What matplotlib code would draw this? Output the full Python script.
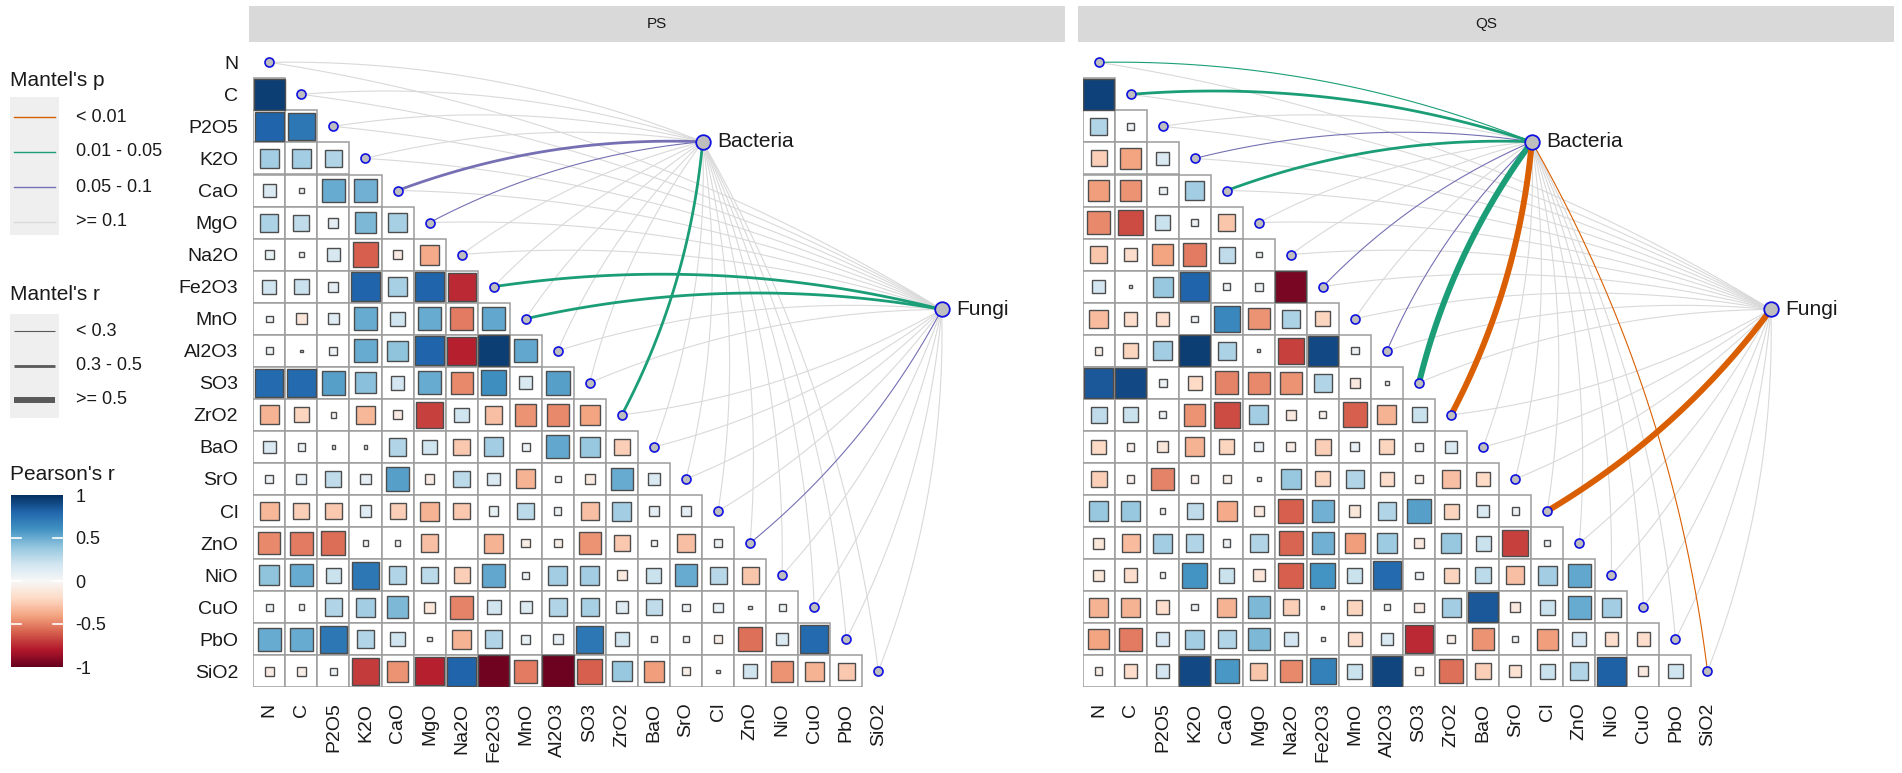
import numpy as np
import matplotlib
matplotlib.use('Agg')
import matplotlib.pyplot as plt
from matplotlib.patches import Rectangle
from matplotlib.colors import Normalize
from matplotlib.cm import ScalarMappable

plt.rcParams['font.family'] = ['Liberation Sans', 'DejaVu Sans']

variables = ['N', 'C', 'P2O5', 'K2O', 'CaO', 'MgO', 'Na2O', 'Fe2O3', 'MnO', 'Al2O3',
             'SO3', 'ZrO2', 'BaO', 'SrO', 'Cl', 'ZnO', 'NiO', 'CuO', 'PbO', 'SiO2']

# Pearson's r, lower triangle: row i holds columns 0..i-1
ps_r = [
    [],
    [0.95],
    [0.80, 0.72],
    [0.35, 0.35, 0.30],
    [0.15, 0.03, 0.50, 0.48],
    [0.32, 0.25, 0.10, 0.45, 0.33],
    [0.08, 0.03, 0.17, -0.60, -0.08, -0.38],
    [0.20, 0.22, 0.10, 0.80, 0.33, 0.80, -0.75],
    [0.04, -0.12, 0.12, 0.50, 0.20, 0.50, -0.52, 0.52],
    [0.05, 0.005, 0.06, 0.50, 0.40, 0.80, -0.78, 0.95, 0.52],
    [0.78, 0.78, 0.55, 0.42, 0.18, 0.50, -0.48, 0.62, 0.16, 0.55],
    [-0.35, -0.22, -0.03, -0.33, -0.08, -0.68, 0.20, -0.30, -0.45, -0.48, -0.40],
    [0.15, 0.05, 0.01, 0.015, 0.30, 0.20, -0.27, 0.35, 0.06, 0.52, 0.38, -0.25],
    [0.06, 0.10, 0.25, 0.10, 0.55, -0.08, 0.27, 0.15, -0.35, 0.03, -0.10, 0.50, 0.15],
    [-0.33, -0.25, -0.27, 0.12, -0.25, -0.35, -0.27, 0.08, 0.27, 0.05, -0.30, 0.35, 0.10, 0.10],
    [-0.48, -0.52, -0.56, 0.03, 0.03, -0.30, 0.0, -0.35, -0.07, -0.06, -0.45, -0.27, 0.03, -0.30, 0.05],
    [0.40, 0.50, 0.22, 0.72, 0.30, 0.27, -0.25, 0.52, 0.05, 0.35, 0.35, -0.10, 0.22, 0.50, 0.28, -0.28],
    [0.05, 0.03, 0.30, 0.35, 0.45, -0.12, -0.50, 0.20, 0.14, 0.30, 0.33, 0.13, 0.25, 0.05, 0.08, 0.01, 0.05],
    [0.50, 0.50, 0.72, 0.30, 0.20, 0.02, -0.35, 0.30, 0.08, 0.10, 0.72, 0.20, 0.04, 0.04, -0.07, -0.55, 0.15, 0.78],
    [-0.08, -0.07, 0.05, -0.70, -0.45, -0.78, 0.80, -0.97, -0.52, -0.98, -0.60, 0.38, -0.42, -0.06, 0.01, 0.20, -0.45, -0.35, -0.27],
]

qs_r = [
    [],
    [0.93],
    [0.30, 0.04],
    [-0.25, -0.40, 0.15],
    [-0.42, -0.45, 0.06, 0.35],
    [-0.48, -0.65, 0.22, 0.05, -0.28],
    [-0.28, -0.18, -0.40, -0.52, 0.25, 0.03],
    [0.18, 0.01, 0.38, 0.80, 0.05, 0.06, -0.95],
    [-0.32, -0.18, -0.18, 0.04, 0.65, -0.45, 0.32, -0.22],
    [-0.06, -0.22, 0.35, 0.95, 0.32, 0.01, -0.68, 0.90, 0.05],
    [0.85, 0.90, 0.06, -0.20, -0.50, -0.48, -0.45, 0.30, -0.10, 0.02],
    [0.25, 0.22, 0.05, -0.45, -0.65, 0.35, -0.10, -0.05, -0.60, -0.35, 0.22],
    [-0.20, -0.05, -0.12, -0.35, -0.22, 0.08, -0.08, -0.25, 0.08, -0.22, 0.05, 0.15],
    [-0.25, -0.05, -0.50, -0.05, -0.06, 0.02, 0.38, -0.22, 0.30, -0.18, -0.05, -0.30, -0.20],
    [0.38, 0.38, 0.03, 0.25, -0.38, -0.10, -0.60, 0.48, -0.12, 0.30, 0.55, -0.22, 0.15, 0.05],
    [-0.12, -0.32, 0.35, 0.30, 0.05, 0.30, -0.58, 0.48, -0.42, 0.36, -0.10, 0.38, 0.22, -0.68, 0.04],
    [-0.12, -0.18, 0.03, 0.60, 0.22, -0.13, -0.60, 0.60, 0.22, 0.78, 0.05, -0.22, 0.27, -0.30, 0.35, 0.52],
    [-0.35, -0.35, -0.18, 0.04, -0.35, 0.45, -0.25, -0.01, -0.22, 0.03, -0.08, 0.35, 0.85, -0.10, 0.22, 0.50, 0.35],
    [-0.40, -0.52, 0.18, 0.35, 0.30, 0.45, 0.18, 0.02, -0.18, 0.15, -0.75, -0.07, -0.45, 0.04, -0.42, 0.18, -0.18, -0.18],
    [-0.06, -0.18, 0.18, 0.90, 0.58, -0.28, -0.48, 0.68, 0.22, 0.92, -0.06, -0.55, -0.25, -0.15, 0.22, 0.30, 0.82, -0.10, 0.20],
]

# Mantel test classes per variable
# p class: 0 '< 0.01', 1 '0.01 - 0.05', 2 '0.05 - 0.1', 3 '>= 0.1'
# r class: 0 '< 0.3', 1 '0.3 - 0.5', 2 '>= 0.5'
ps_bac_p = [3, 3, 3, 3, 2, 2, 3, 3, 3, 3, 3, 1, 3, 3, 3, 3, 3, 3, 3, 3]
ps_bac_r = [0, 0, 0, 0, 1, 0, 0, 0, 0, 0, 0, 1, 0, 0, 0, 0, 0, 0, 0, 0]
ps_fun_p = [3, 3, 3, 3, 3, 3, 3, 1, 1, 3, 3, 3, 3, 3, 3, 2, 3, 3, 3, 3]
ps_fun_r = [0, 0, 0, 0, 0, 0, 0, 1, 1, 0, 0, 0, 0, 0, 0, 0, 0, 0, 0, 0]
qs_bac_p = [1, 1, 3, 2, 1, 3, 3, 2, 3, 2, 1, 0, 3, 3, 3, 3, 3, 3, 3, 0]
qs_bac_r = [0, 1, 0, 0, 1, 0, 0, 0, 0, 0, 2, 2, 0, 0, 0, 0, 0, 0, 0, 0]
qs_fun_p = [3, 3, 3, 3, 3, 3, 3, 3, 3, 3, 3, 3, 3, 3, 0, 3, 3, 3, 3, 3]
qs_fun_r = [0, 0, 0, 0, 0, 0, 0, 0, 0, 0, 0, 0, 0, 0, 2, 0, 0, 0, 0, 0]

p_labels = ['< 0.01', '0.01 - 0.05', '0.05 - 0.1', '>= 0.1']
r_labels = ['< 0.3', '0.3 - 0.5', '>= 0.5']
p_colors = ['#D95F02', '#1B9E77', '#7570B3', '#D9D9D9']
r_widths = [0.8, 2.0, 4.3]

W, H = 1902, 773
fig = plt.figure(figsize=(W / 100, H / 100), dpi=100)


def box(left, top, w, h):
    return [left / W, 1 - (top + h) / H, w / W, h / H]


cmap = plt.get_cmap('RdBu')
norm = Normalize(-1, 1)
n = len(variables)
cell = 32.05
nodes = {'Bacteria': (13.52, 2.48), 'Fungi': (20.98, 7.71)}

# overlay for strips and legends
ov = fig.add_axes([0, 0, 1, 1])
ov.set_xlim(0, W)
ov.set_ylim(H, 0)
ov.axis('off')


def draw_curve(ax, node, k, pc, rc):
    nx, ny = node
    dx, dy = k - nx, k - ny
    L = np.hypot(dx, dy)
    if k <= 10:
        px, py = -dy / L, dx / L
    else:
        px, py = dy / L, -dx / L
    t = np.linspace(0, 1, 80)
    bow = 0.05 * L * 4 * t * (1 - t)
    xs = nx + t * dx + px * bow
    ys = ny + t * dy + py * bow
    z = 2 if pc == 3 else 3 + rc
    ax.plot(xs, ys, color=p_colors[pc], lw=r_widths[rc], solid_capstyle='butt',
            zorder=z, clip_on=False)


def draw_panel(left, title, rmat, bac_p, bac_r, fun_p, fun_r, ylabels):
    ov.add_patch(Rectangle((left - 4.5, 6), 816, 36, fc='#D9D9D9', ec='none'))
    ov.text(left - 4.5 + 408, 24, title, fontsize=11, color='#1A1A1A',
            ha='center', va='center')

    ax = fig.add_axes(box(left, 46.3, n * cell, n * cell))
    ax.set_xlim(-0.5, n - 0.5)
    ax.set_ylim(n - 0.5, -0.5)
    ax.patch.set_alpha(0)
    for s in ax.spines.values():
        s.set_visible(False)

    for i in range(n):
        for j in range(i):
            ax.add_patch(Rectangle((j - 0.5, i - 0.5), 1, 1, fc='white',
                                   ec='#9C9C9C', lw=1.1, zorder=1))
    for i in range(n):
        for j, r in enumerate(rmat[i]):
            s = np.sqrt(abs(r))
            if s <= 0:
                continue
            ax.add_patch(Rectangle((j - s / 2, i - s / 2), s, s,
                                   fc=cmap(norm(r)), ec='#4D4D4D', lw=1.0, zorder=1.5))

    for k in range(n):
        draw_curve(ax, nodes['Bacteria'], k, bac_p[k], bac_r[k])
        draw_curve(ax, nodes['Fungi'], k, fun_p[k], fun_r[k])

    idx = np.arange(n)
    ax.scatter(idx, idx, s=42, c='#BEBEBE', edgecolors='#1010E0', linewidths=1.2,
               zorder=6, clip_on=False)
    for name, (x, y) in nodes.items():
        ax.scatter([x], [y], s=110, c='#BEBEBE', edgecolors='#1010E0',
                   linewidths=1.3, zorder=6, clip_on=False)
        ax.text(x + 0.45, y, name, fontsize=15, color='#1A1A1A', ha='left',
                va='center', zorder=7, clip_on=False)

    ax.set_xticks(idx)
    ax.set_xticklabels(variables, rotation=90, fontsize=14, color='#1A1A1A')
    ax.set_yticks(idx)
    if ylabels:
        ax.set_yticklabels(variables, fontsize=14, color='#1A1A1A')
    else:
        ax.set_yticklabels([])
    ax.tick_params(length=0, pad=11)
    return ax


draw_panel(253.3, 'PS', ps_r, ps_bac_p, ps_bac_r, ps_fun_p, ps_fun_r, True)
draw_panel(1082.5, 'QS', qs_r, qs_bac_p, qs_bac_r, qs_fun_p, qs_fun_r, False)

# legend: Mantel's p
ov.text(10, 80, "Mantel's p", fontsize=15, color='#1A1A1A', va='center')
ov.add_patch(Rectangle((10, 97), 49, 138, fc='#EFEFEF', ec='none'))
for i, lab in enumerate(p_labels):
    y = 117 + i * 35
    ov.plot([14, 55], [y, y], color=p_colors[i], lw=1.0)
    ov.text(76, y, lab, fontsize=13, color='#1A1A1A', va='center')

# legend: Mantel's r
ov.text(10, 295, "Mantel's r", fontsize=15, color='#1A1A1A', va='center')
ov.add_patch(Rectangle((10, 314), 49, 104, fc='#EFEFEF', ec='none'))
for i, lab in enumerate(r_labels):
    y = 331 + i * 34.5
    ov.plot([14, 55], [y, y], color='#595959', lw=r_widths[i], solid_capstyle='butt')
    ov.text(76, y, lab, fontsize=13, color='#1A1A1A', va='center')

# legend: Pearson's r
ov.text(10, 475, "Pearson's r", fontsize=15, color='#1A1A1A', va='center')
cax = fig.add_axes(box(11, 495, 52, 172))
cb = fig.colorbar(ScalarMappable(norm=norm, cmap=cmap), cax=cax)
cb.outline.set_visible(False)
cb.set_ticks([-1, -0.5, 0, 0.5, 1])
cb.set_ticklabels(['-1', '-0.5', '0', '0.5', '1'])
cax.tick_params(length=0, pad=9, labelsize=13, labelcolor='#1A1A1A')
for v in [-0.5, 0, 0.5]:
    cax.axhline(v, xmin=0, xmax=0.2, color='white', lw=1.2)
    cax.axhline(v, xmin=0.8, xmax=1, color='white', lw=1.2)

fig.savefig('out.png', dpi=100)
